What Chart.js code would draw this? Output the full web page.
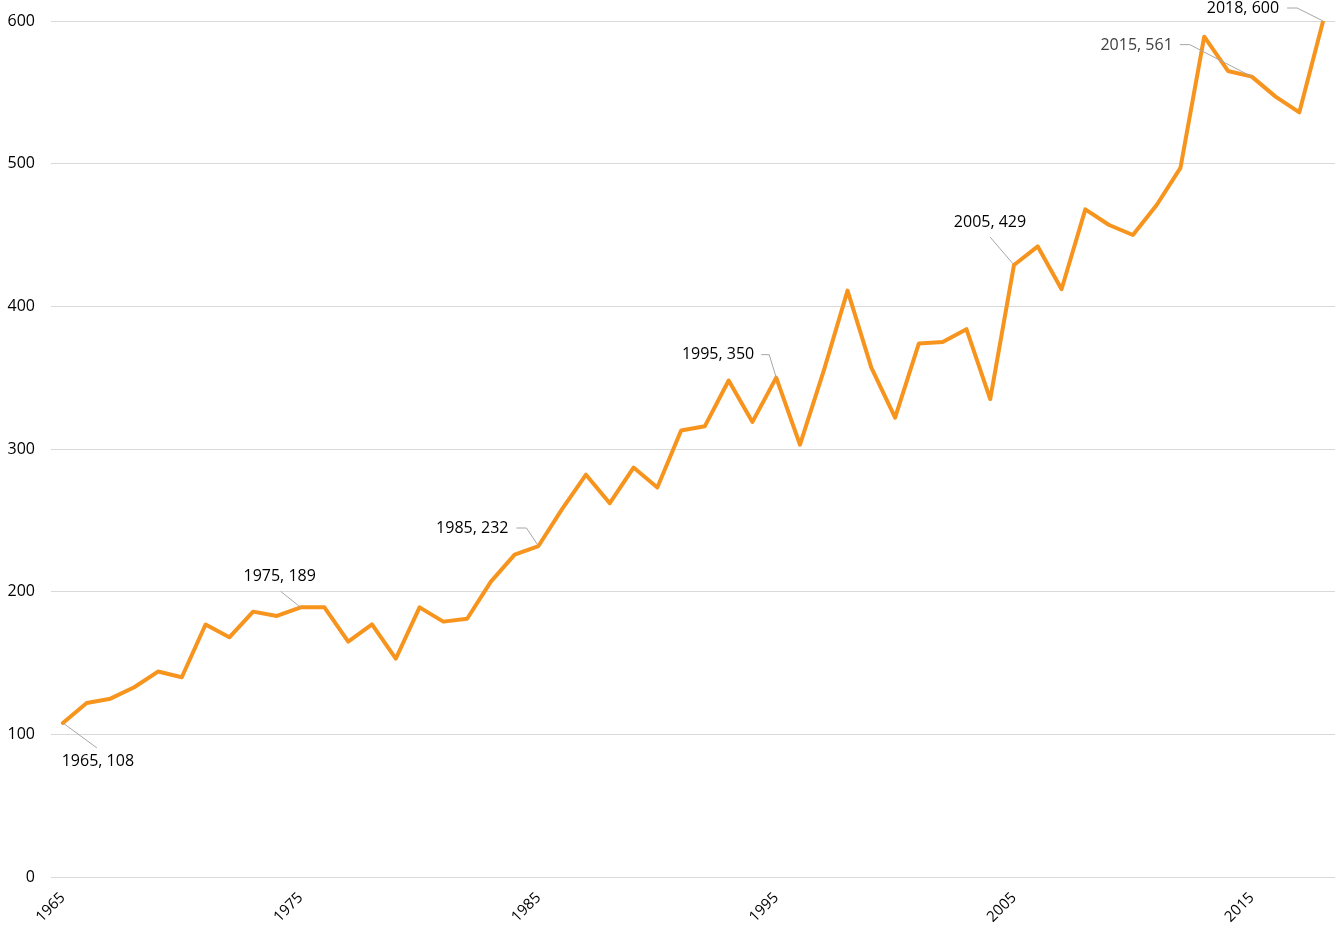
<!DOCTYPE html>
<html>
<head>
<meta charset="utf-8">
<script src="https://cdn.jsdelivr.net/npm/chart.js@4.4.1/dist/chart.umd.min.js"></script>
<style>
    html, body { margin: 0; padding: 0; background: #ffffff; }
    #wrap { width: 1340px; height: 930px; }
</style>
</head>
<body>
<div id="wrap"><canvas id="lineChart" width="1340" height="930"></canvas></div>
<script>
// years and values
const years = [
    1965, 1966, 1967, 1968, 1969, 1970, 1971, 1972, 1973, 1974,
    1975, 1976, 1977, 1978, 1979, 1980, 1981, 1982, 1983, 1984,
    1985, 1986, 1987, 1988, 1989, 1990, 1991, 1992, 1993, 1994,
    1995, 1996, 1997, 1998, 1999, 2000, 2001, 2002, 2003, 2004,
    2005, 2006, 2007, 2008, 2009, 2010, 2011, 2012, 2013, 2014,
    2015, 2016, 2017, 2018
];
const values = [
    108, 122, 125, 133, 144, 140, 177, 168, 186, 183,
    189, 189, 165, 177, 153, 189, 179, 181, 207, 226,
    232, 258, 282, 262, 287, 273, 313, 316, 348, 319,
    350, 303, 355, 411, 357, 322, 374, 375, 384, 335,
    429, 442, 412, 468, 457, 450, 471, 497, 589, 565,
    561, 547, 536, 600
];
const yTicks = [0, 100, 200, 300, 400, 500, 600];
const labelledYears = [1965, 1975, 1985, 1995, 2005, 2015, 2018];

// where each data label sits relative to its point (pixels)
const labelPlacement = {
    1965: { dx: 35, dy: 39, align: 'center', leader: [[34, 25]] },
    1975: { dx: -21, dy: -31, align: 'center', leader: [[-20, -16]] },
    1985: { dx: -30, dy: -18, align: 'right', leader: [[-12, -18], [-22, -18]] },
    1995: { dx: -22, dy: -23, align: 'right', leader: [[-7, -23], [-15, -23]] },
    2005: { dx: -24, dy: -43, align: 'center', leader: [[-24, -28]] },
    2015: { dx: -79, dy: -31, align: 'right', leader: [[-62, -32], [-72, -32]], color: '#404040' },
    2018: { dx: -44, dy: -13, align: 'right', leader: [[-26, -13], [-36, -13]] }
};

const FONT = '"Open Sans", "Noto Sans", sans-serif';

// data labels with leader lines
const dataLabelPlugin = {
    id: 'dataLabels',
    afterDatasetsDraw(chart) {
        const ctx = chart.ctx;
        const meta = chart.getDatasetMeta(0);
        ctx.save();
        labelledYears.forEach(year => {
            const i = years.indexOf(year);
            const pt = meta.data[i];
            const p = labelPlacement[year];
            // leader line
            ctx.beginPath();
            ctx.moveTo(pt.x, pt.y);
            p.leader.forEach(l => ctx.lineTo(pt.x + l[0], pt.y + l[1]));
            ctx.strokeStyle = '#a6a6a6';
            ctx.lineWidth = 1;
            ctx.stroke();
            // text
            ctx.font = '16px ' + FONT;
            ctx.fillStyle = p.color || '#000000';
            ctx.textAlign = p.align;
            ctx.textBaseline = 'middle';
            ctx.fillText(year + ', ' + values[i], pt.x + p.dx, pt.y + p.dy);
        });
        ctx.restore();
    }
};

const ctx = document.getElementById('lineChart').getContext('2d');
new Chart(ctx, {
    type: 'line',
    data: {
        labels: years.map(String),
        datasets: [{
            data: values,
            borderColor: '#f7941d',
            borderWidth: 4,
            borderJoinStyle: 'round',
            borderCapStyle: 'round',
            pointRadius: 0,
            pointHoverRadius: 0,
            fill: false,
            tension: 0
        }]
    },
    options: {
        responsive: false,
        animation: false,
        layout: { padding: { top: 21, right: 5, left: 0, bottom: 0 } },
        plugins: {
            legend: { display: false },
            tooltip: { enabled: false }
        },
        scales: {
            x: {
                offset: true,
                grid: { display: false, drawTicks: false },
                border: { display: false },
                ticks: {
                    autoSkip: false,
                    maxRotation: 45,
                    minRotation: 45,
                    padding: 12,
                    color: '#000000',
                    font: { family: FONT, size: 15 },
                    callback: function(value, index) {
                        const y = years[index];
                        return (y - 1965) % 10 === 0 ? String(y) : '';
                    }
                },
                afterFit(scale) {
                    scale.height = 53;
                    scale.paddingLeft = 0;
                    scale.paddingRight = 0;
                }
            },
            y: {
                min: 0,
                max: 600,
                afterBuildTicks(scale) {
                    scale.ticks = yTicks.map(v => ({ value: v }));
                },
                grid: { color: '#d9d9d9', lineWidth: 1, drawTicks: false },
                border: { display: false },
                ticks: {
                    padding: 16,
                    color: '#000000',
                    font: { family: FONT, size: 16 }
                },
                afterFit(scale) {
                    scale.width = 51;
                    scale.paddingTop = 0;
                    scale.paddingBottom = 0;
                }
            }
        }
    },
    plugins: [dataLabelPlugin]
});
</script>
</body>
</html>
